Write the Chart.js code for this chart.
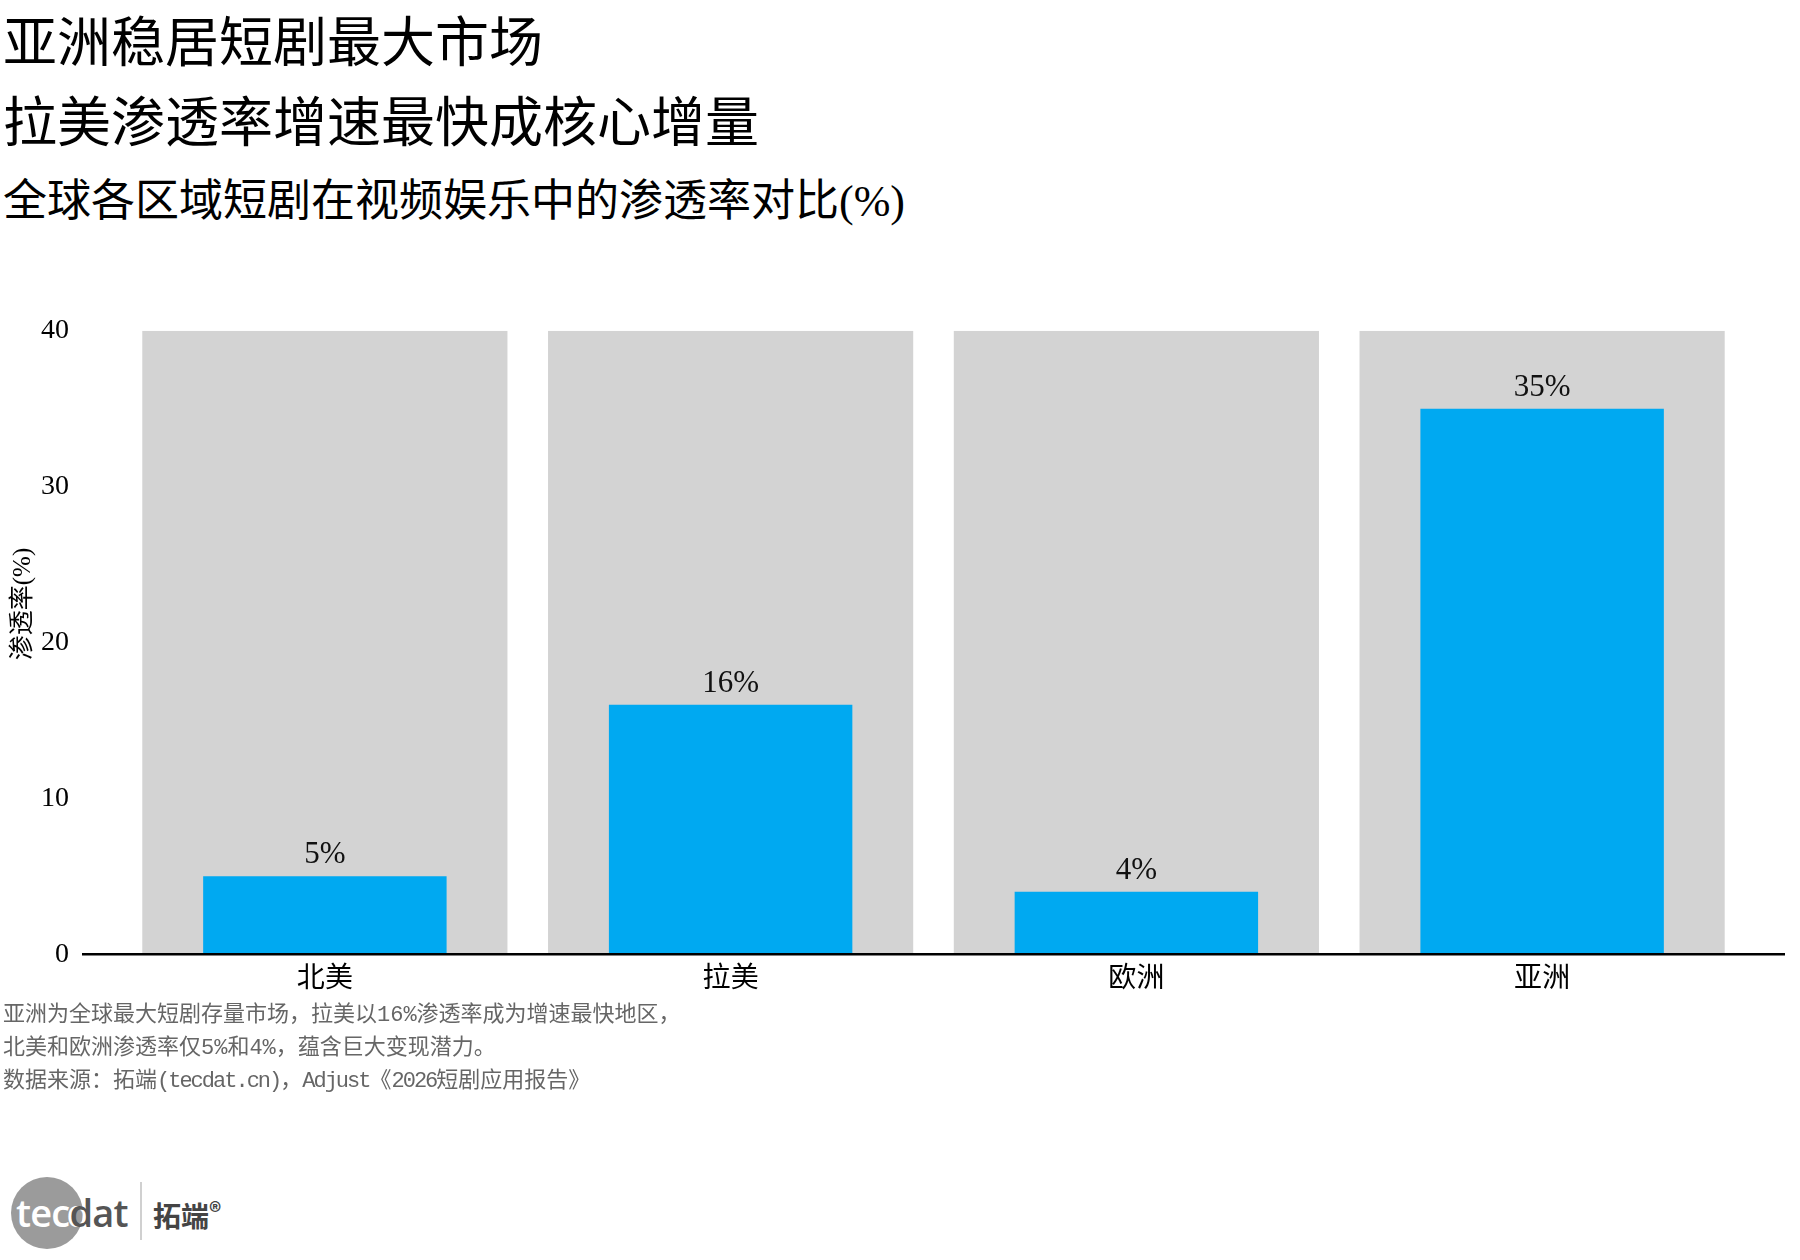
<!DOCTYPE html>
<html>
<head>
<meta charset="utf-8">
<script src="https://cdn.jsdelivr.net/npm/chart.js@4.4.1/dist/chart.umd.min.js"></script>
<style>
  html, body { margin: 0; padding: 0; background: #fff; }
  body { width: 1800px; height: 1260px; position: relative; overflow: hidden; }
  .t { position: absolute; left: 3px; white-space: nowrap; color: #000;
       font-family: "Liberation Serif", "Noto Sans CJK SC", serif; line-height: 1; }
  #t1 { top: 17px; font-size: 54px; }
  #t2 { top: 97px; font-size: 54px; }
  #t3 { top: 180px; font-size: 44px; }
  #chartBox { position: absolute; left: 0; top: 261px; width: 1800px; height: 763px; }
  #notes { position: absolute; left: 3px; top: 999px; font-size: 22px; line-height: 33px;
           color: #666; font-family: "Liberation Mono", "Noto Sans CJK SC", monospace; white-space: nowrap; }
  #notes .lat { letter-spacing: -2px; }
  #logo { position: absolute; left: 0; top: 1170px; width: 260px; height: 90px; }
  #logo .circ { position: absolute; left: 11px; top: 7px; width: 72px; height: 72px; border-radius: 50%; background: #9b9b9b; }
  #logo .word { position: absolute; left: 16px; top: 14px; font-family: "Open Sans", "Noto Sans", sans-serif;
                font-weight: 600; font-size: 38px; line-height: 56px; letter-spacing: -0.8px; }
  #logo .w1 { color: #fff; }
  #logo .w2 { color: #555; text-shadow: -2px 0 0 #fff, -3px 0 0 #fff; }
  #logo .bar { position: absolute; left: 140px; top: 12px; width: 2px; height: 58px; background: #d0d0d0; }
  #logo .cn { position: absolute; left: 153px; top: 24px; font-family: "Noto Sans CJK SC", sans-serif;
              font-weight: bold; font-size: 28px; line-height: 34px; color: #444; }
  #logo .cn sup { font-size: 24px; vertical-align: 6px; font-weight: bold; }
</style>
</head>
<body>
<div class="t" id="t1">亚洲稳居短剧最大市场</div>
<div class="t" id="t2">拉美渗透率增速最快成核心增量</div>
<div class="t" id="t3">全球各区域短剧在视频娱乐中的渗透率对比(%)</div>

<div id="chartBox"><canvas id="chart" width="1800" height="763"></canvas></div>

<div id="notes">
  <div>亚洲为全球最大短剧存量市场，拉美以16%渗透率成为增速最快地区，</div>
  <div>北美和欧洲渗透率仅5%和4%，蕴含巨大变现潜力。</div>
  <div>数据来源：拓端<span class="lat">(tecdat.cn)</span>，<span class="lat">Adjust</span>《<span class="lat">2026</span>短剧应用报告》</div>
</div>

<div id="logo">
  <div class="circ"></div>
  <div class="word"><span class="w1">tec</span><span class="w2">dat</span></div>
  <div class="bar"></div>
  <div class="cn">拓端<sup>®</sup></div>
</div>

<script>
const regions = ["北美", "拉美", "欧洲", "亚洲"];
const penetration = [5, 16, 4, 35];
const backdrop = [40, 40, 40, 40];
const yTicks = [0, 10, 20, 30, 40];
const yTitle = "渗透率(%)";

const serif = '"Liberation Serif", "Noto Sans CJK SC", serif';
const TOP = 261; // canvas offset on page

// value labels + baseline + rotated axis title
const extras = {
    id: "extras",
    afterDatasetsDraw(chart) {
        const ctx = chart.ctx;
        const area = chart.chartArea;
        const y0 = chart.scales.y.getPixelForValue(0);
        ctx.save();
        ctx.strokeStyle = "#000";
        ctx.lineWidth = 2.5;
        ctx.beginPath();
        ctx.moveTo(area.left - 40, y0);
        ctx.lineTo(area.right + 40, y0);
        ctx.stroke();

        ctx.fillStyle = "#111";
        ctx.font = "31px " + serif;
        ctx.textAlign = "center";
        ctx.textBaseline = "alphabetic";
        chart.getDatasetMeta(1).data.forEach((bar, i) => {
            ctx.fillText(penetration[i] + "%", bar.x, bar.y - 13);
        });

        ctx.translate(23, 604 - TOP);
        ctx.rotate(-Math.PI / 2);
        ctx.font = "25px " + serif;
        ctx.textBaseline = "middle";
        ctx.fillStyle = "#000";
        ctx.fillText(yTitle, 0, 0);
        ctx.restore();
    }
};

new Chart(document.getElementById("chart"), {
    type: "bar",
    data: {
        labels: regions,
        datasets: [
            {
                data: backdrop,
                backgroundColor: "#d3d3d3",
                barPercentage: 0.9,
                categoryPercentage: 1.0,
                grouped: false,
                order: 2
            },
            {
                data: penetration,
                backgroundColor: "#00a9f1",
                barPercentage: 0.6,
                categoryPercentage: 1.0,
                grouped: false,
                order: 1
            }
        ]
    },
    options: {
        responsive: false,
        animation: false,
        devicePixelRatio: 1,
        layout: { padding: { top: 0, right: 55, bottom: 0, left: 0 } },
        plugins: { legend: { display: false }, tooltip: { enabled: false } },
        scales: {
            x: {
                grid: { display: false, drawTicks: false },
                border: { display: false },
                ticks: { color: "#000", font: { size: 28, family: serif }, padding: 9 }
            },
            y: {
                min: 0,
                max: 40,
                afterFit: (s) => { s.width = 122; },
                afterBuildTicks: (s) => { s.ticks = yTicks.map(v => ({ value: v })); },
                grid: { display: false, drawTicks: false },
                border: { display: false },
                ticks: { color: "#000", font: { size: 28, family: serif }, padding: 53 }
            }
        }
    },
    plugins: [extras]
});
</script>
</body>
</html>
